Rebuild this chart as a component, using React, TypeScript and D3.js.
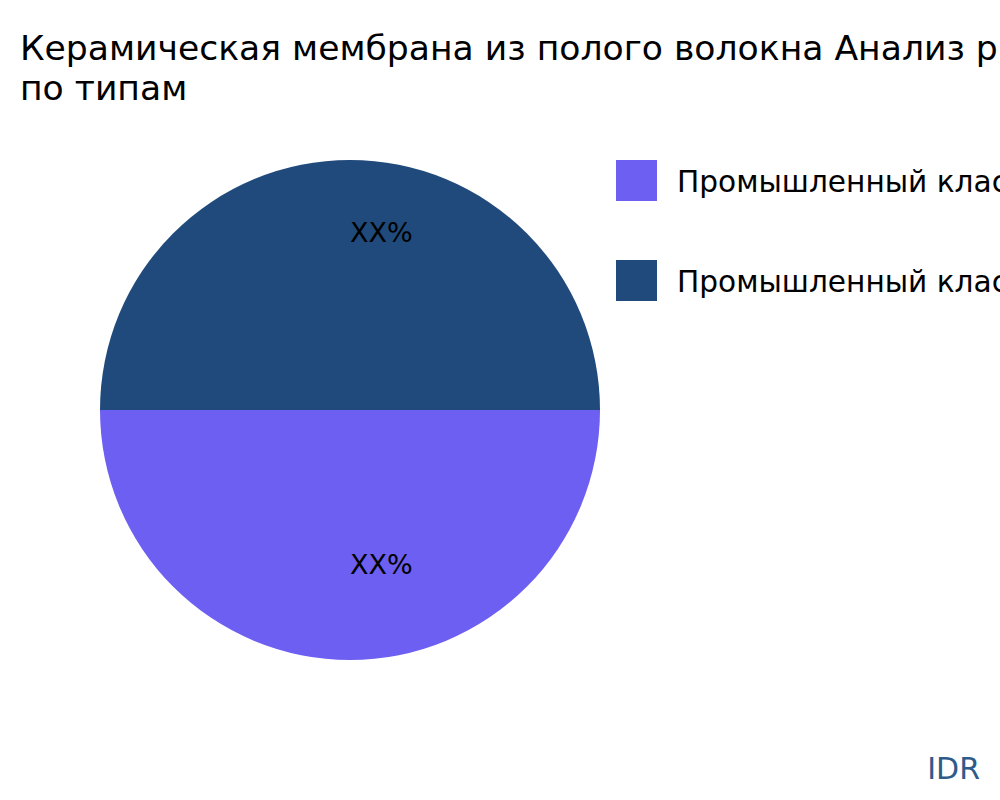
import * as d3 from 'd3';

const categories = ['Промышленный класс', 'Промышленный класс'];
const shares = [50, 50];
const sliceLabels = ['XX%', 'XX%'];
const colors = ['#6d5ff1', '#1f4a7b'];
const titleLines = ['Керамическая мембрана из полого волокна Анализ рынка', 'по типам'];

export default function App() {
  const width = 1000;
  const height = 800;
  const cx = 350;
  const cy = 410;
  const radius = 250;

  const pie = d3
    .pie<number>()
    .sort(null)
    .startAngle(Math.PI / 2)
    .endAngle(Math.PI * 2.5);
  const arcs = pie(shares);

  const arc = d3.arc<d3.PieArcDatum<number>>().innerRadius(0).outerRadius(radius);
  // labels sit about two thirds of the way out, text starts at the centroid
  const labelArc = d3
    .arc<d3.PieArcDatum<number>>()
    .innerRadius(166)
    .outerRadius(166);

  const font = "'DejaVu Sans', sans-serif";

  return (
    <svg
      width={width}
      height={height}
      style={{ position: 'absolute', left: 0, top: 0, background: '#fff' }}
      fontFamily={font}
    >
      {titleLines.map((line, i) => (
        <text key={i} x={20} y={60 + i * 40} fontSize={34.6} fill="#000">
          {line}
        </text>
      ))}

      <g transform={`translate(${cx},${cy})`}>
        {arcs.map((d, i) => (
          <path key={i} d={arc(d) ?? ''} fill={colors[i]} />
        ))}
        {arcs.map((d, i) => {
          const [lx, ly] = labelArc.centroid(d);
          return (
            <text key={i} x={lx} y={ly - 2} fontSize={27} fill="#000">
              {sliceLabels[i]}
            </text>
          );
        })}
      </g>

      {categories.map((c, i) => (
        <g key={i} transform={`translate(616,${160 + i * 100})`}>
          <rect width={41} height={41} fill={colors[i]} />
          <text x={61} y={32} fontSize={29.6} fill="#000">
            {c}
          </text>
        </g>
      ))}

      <text x={980} y={779} textAnchor="end" fontSize={30} fill="#2e5b8a">
        IDR
      </text>
    </svg>
  );
}
